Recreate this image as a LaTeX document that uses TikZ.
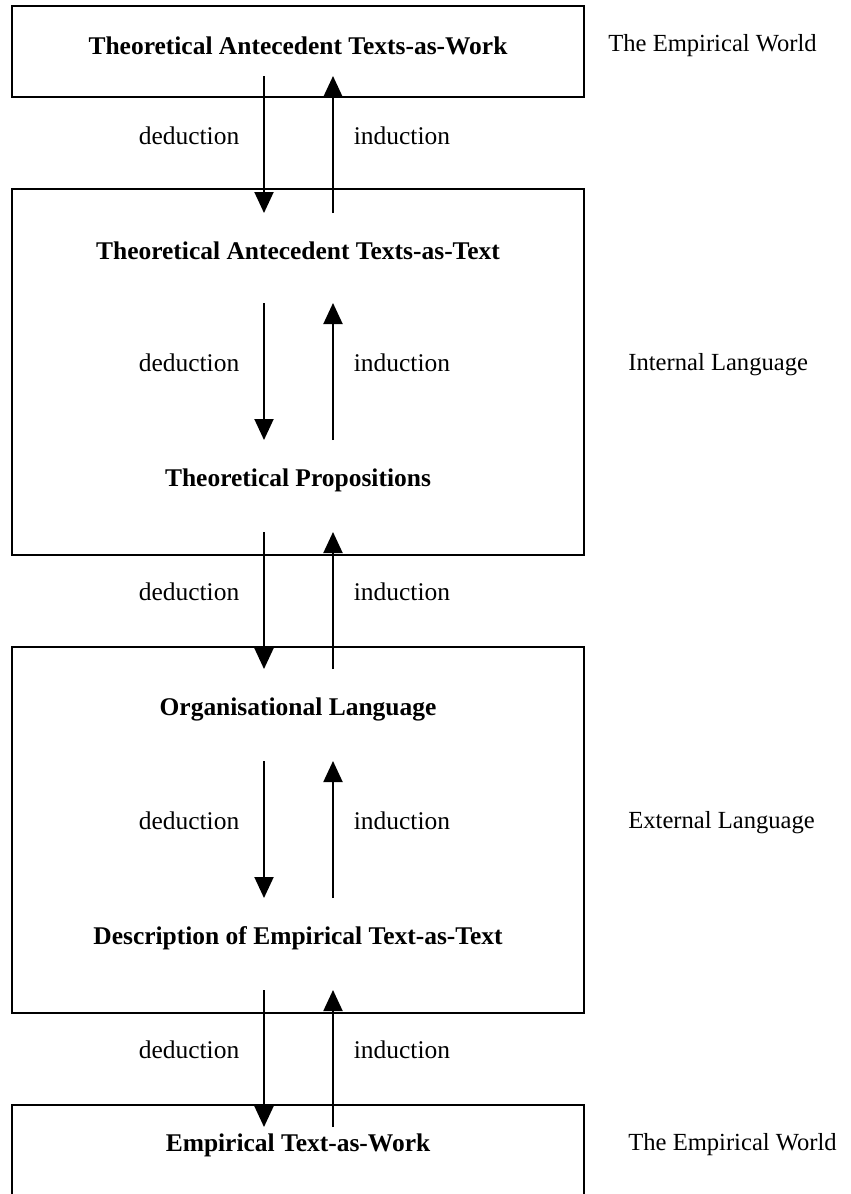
\documentclass[tikz,border=0pt]{standalone}
\usepackage{fontspec}
\setmainfont{Liberation Serif}
\usetikzlibrary{arrows.meta}

\begin{document}
\begin{tikzpicture}[x=0.02cm, y=-0.02cm]
	\tikzset{arc lines/.style={line width=1.1pt, black, -{Triangle[width=0.38cm, length=0.42cm]}},
		box lines/.style={line width=1.1pt, black},
		title/.style={font=\fontsize{14.5}{17}\selectfont\bfseries},
		step label/.style={font=\fontsize{14.5}{17}\selectfont},
		side label/.style={font=\fontsize{14}{17}\selectfont, anchor=west, inner sep=0pt}}
	\useasboundingbox (0, 0) rectangle (851, 1194);
	\clip (0, 0) rectangle (851, 1194);

	% boxes
	\draw[box lines] (12, 6) rectangle (584, 97);
	\draw[box lines] (12, 189) rectangle (584, 555);
	\draw[box lines] (12, 647) rectangle (584, 1013);
	\draw[box lines] (12, 1105) rectangle (584, 1260);

	\node[title] (work) at (298, 46) {Theoretical Antecedent Texts-as-Work};
	\node[title] (text) at (298, 251) {Theoretical Antecedent Texts-as-Text};
	\node[title] (prop) at (298, 480) {Theoretical Propositions};
	\node[title] (org) at (298, 709) {Organisational Language};
	\node[title] (desc) at (298, 938) {Description of Empirical Text-as-Text};
	\node[title] (emp) at (298, 1145) {Empirical Text-as-Work};

	\node[side label] (world1) at (608, 46) {The Empirical World};
	\node[side label] (internal) at (628, 365) {Internal Language};
	\node[side label] (external) at (628, 823) {External Language};
	\node[side label] (world2) at (628, 1145) {The Empirical World};

	% arrows, five pairs
	\foreach \i/\y in {1/76, 2/303, 3/532, 4/761, 5/990} {
		\coordinate (d\i a) at (264, \y);
		\coordinate (d\i b) at (264, \y+137);
		\coordinate (u\i a) at (333, \y+137);
		\coordinate (u\i b) at (333, \y);
		\draw[arc lines] (d\i a) -- (d\i b);
		\draw[arc lines] (u\i a) -- (u\i b);
		\node[step label] (ded\i) at (189, \y+60) {deduction};
		\node[step label] (ind\i) at (402, \y+60) {induction};
	}
\end{tikzpicture}
\end{document}
